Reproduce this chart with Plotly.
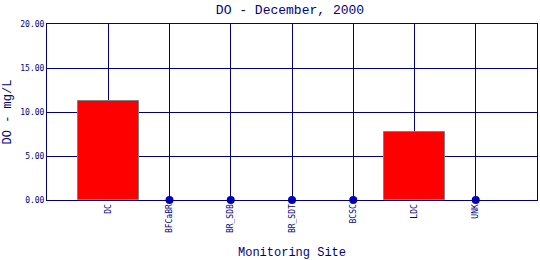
import plotly.graph_objects as go

sites = ["DC", "BFCaBR", "BR_SDB", "BR_SDT", "BCSC", "LDC", "UNK"]
do_values = [11.28, None, None, None, None, 7.69, None]
y_ticks = [0, 5, 10, 15, 20]
y_tick_labels = ["0.00", "5.00", "10.00", "15.00", "20.00"]

navy = "#000080"
font = "DejaVu Sans Mono"
font2 = "Liberation Mono"

bar_x = [s for s, v in zip(sites, do_values) if v is not None]
bar_y = [v for v in do_values if v is not None]
miss_x = [s for s, v in zip(sites, do_values) if v is None]
miss_y = [0 for _ in miss_x]

fig = go.Figure()
fig.add_trace(go.Bar(
    x=bar_x, y=bar_y, width=1.0,
    marker=dict(color="#FF0000", line=dict(color="#808080", width=1)),
    showlegend=False,
))
fig.add_trace(go.Scatter(
    x=miss_x, y=miss_y, mode="markers",
    marker=dict(color="#0000CC", size=8),
    cliponaxis=False, showlegend=False,
))

fig.update_layout(
    width=540, height=260,
    margin=dict(l=47, r=3, t=24, b=60),
    paper_bgcolor="white", plot_bgcolor="white",
    font=dict(family=font, color=navy, size=8),
    title=dict(text="DO - December, 2000", x=0.537, xanchor="center",
               y=0.962, yanchor="middle",
               font=dict(family=font2, size=13, color=navy)),
    bargap=0,
)
fig.update_xaxes(
    type="category", categoryorder="array", categoryarray=sites,
    range=[-1, 7], automargin=False,
    showgrid=True, gridcolor=navy, gridwidth=1,
    showline=True, linecolor=navy, linewidth=1, mirror=True,
    ticks="", tickangle=-90, tickfont=dict(family=font, size=8, color=navy),
    title=dict(text="Monitoring Site", font=dict(family=font2, size=12, color=navy), standoff=18),
    zeroline=False,
)
fig.update_yaxes(
    range=[0, 20], tickvals=y_ticks, ticktext=y_tick_labels,
    showgrid=True, gridcolor=navy, gridwidth=1,
    showline=True, linecolor=navy, linewidth=1, mirror=True,
    ticks="", tickfont=dict(family=font, size=8, color=navy),
    title=dict(text="DO - mg/L", font=dict(family=font2, size=12, color=navy), standoff=6),
    zeroline=False,
)

fig.write_html("out.html")
